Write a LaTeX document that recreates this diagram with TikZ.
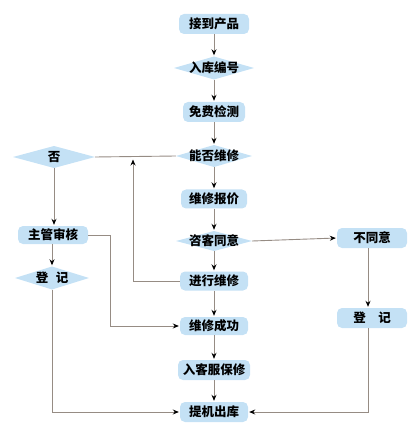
\documentclass[tikz,border=0pt]{standalone}
\usepackage{fontspec}
\newfontfamily\cjk{Noto Sans CJK SC}
\usetikzlibrary{arrows.meta,positioning,calc}
\definecolor{stepBlue}{RGB}{196,225,245}
\definecolor{lineGray}{RGB}{150,140,132}

\begin{document}
\begin{tikzpicture}[x=1pt, y=-1pt,
    box/.style={rectangle, rounded corners=5pt, fill=stepBlue, inner sep=0pt,
               minimum height=20pt, minimum width=68pt,
               font=\cjk\bfseries\fontsize{12.5}{14}\selectfont},
    dia/.style={rectangle, inner sep=0pt, minimum height=22pt, minimum width=78pt,
               font=\cjk\bfseries\fontsize{12.5}{14}\selectfont,
               path picture={\fill[stepBlue] (path picture bounding box.west)
                 -- (path picture bounding box.north) -- (path picture bounding box.east)
                 -- (path picture bounding box.south) -- cycle;}},
    arr/.style={-{Stealth[length=6pt, width=5pt, black]}, line width=0.9pt, lineGray,
               shorten >=1pt},
    ln/.style={line width=0.9pt, lineGray}]

    \useasboundingbox (0,0) rectangle (414,427);

    % Main column
    \node[box, minimum width=70pt] (get) at (214,24) {接到产品};
    \node[dia, minimum width=80pt, minimum height=23pt] (reg) at (214,68) {入库编号};
    \node[box, minimum width=62pt] (check) at (214,112) {免费检测};
    \node[dia, minimum width=76pt] (can) at (214,156) {能否维修};
    \node[box, minimum width=66pt, minimum height=19pt] (quote) at (214,199) {维修报价};
    \node[dia, minimum width=76pt, minimum height=20pt] (agree) at (214,241) {咨客同意};
    \node[box, minimum height=19pt] (repair) at (214,281) {进行维修};
    \node[box, minimum height=18pt] (done) at (214,326) {维修成功};
    \node[box, minimum width=72pt] (service) at (214,370) {入客服保修};
    \node[box] (out) at (214,412) {提机出库};

    % Left column
    \node[dia, minimum width=82pt] (no) at (54,157) {否};
    \node[box, minimum width=70pt, minimum height=18pt] (review) at (53,235) {主管审核};
    \node[dia, minimum width=74pt, minimum height=23pt] (regL) at (52,278) {登\hspace{0.6em}记};

    % Right column
    \node[box, minimum width=70pt] (disagree) at (372,238) {不同意};
    \node[box, minimum width=70pt] (regR) at (372,318) {登\hspace{1em}记};

    \coordinate (back) at (133,158.5);

    % Main flow
    \draw[arr] (get) -- (reg);
    \draw[arr] (reg) -- (check);
    \draw[arr] (check) -- (can);
    \draw[arr] (can) -- (quote);
    \draw[arr] (quote) -- (agree);
    \draw[arr] (agree) -- (repair);
    \draw[arr] (repair) -- (done);
    \draw[arr] (done) -- (service);
    \draw[arr] (service) -- (out);

    % Refused branch
    \draw[ln] (can.west) -- (no.east);
    \draw[arr] (no.south) -- (no.south |- review.north);
    \draw[arr] (review.south -| regL) -- (regL.north);
    \draw[arr] (regL.south) -- (regL.south |- out) -- (out.west);
    \draw[arr] (review.east) -- ++(22,0) |- (done.west);
    \draw[arr] (repair.west) -| (back);

    % Not agreed branch
    \draw[arr] (agree.east) -- (disagree.west);
    \draw[arr] ([xshift=-4pt]disagree.south) -- ([xshift=-4pt]regR.north);
    \draw[arr] ([xshift=-4pt]regR.south) -- ([xshift=-4pt]regR.south |- out) -- (out.east);

\end{tikzpicture}
\end{document}
